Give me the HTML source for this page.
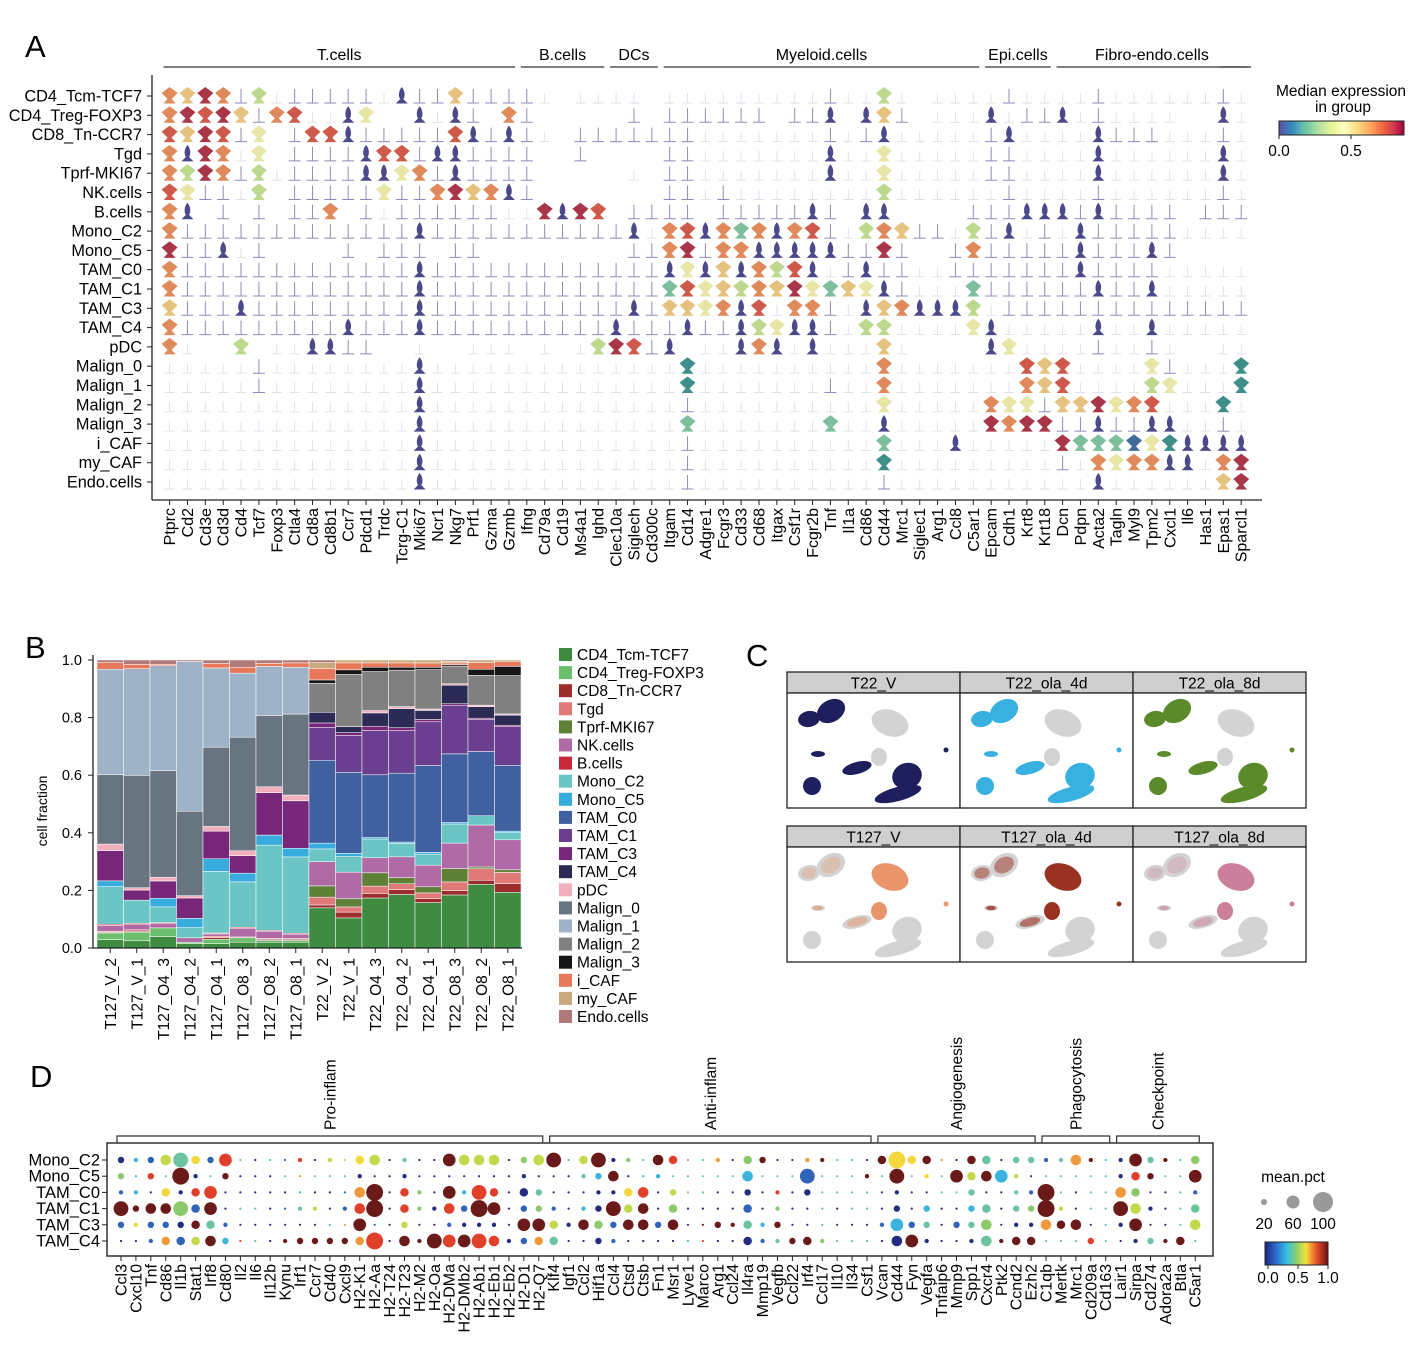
<!DOCTYPE html>
<html><head><meta charset="utf-8"><style>
html,body{margin:0;padding:0;background:#fff}
svg{display:block;font-family:"Liberation Sans",Arial,sans-serif}
</style></head><body>
<svg id="fig" width="1415" height="1366" viewBox="0 0 1415 1366" xmlns="http://www.w3.org/2000/svg">
<defs>
<linearGradient id="spec" x1="0" x2="1" y1="0" y2="0">
<stop offset="0" stop-color="#5e4fa2"/><stop offset="0.1" stop-color="#3288bd"/><stop offset="0.2" stop-color="#66c2a5"/><stop offset="0.3" stop-color="#abdda4"/><stop offset="0.42" stop-color="#e6f598"/><stop offset="0.52" stop-color="#ffffbf"/><stop offset="0.62" stop-color="#fee08b"/><stop offset="0.72" stop-color="#fdae61"/><stop offset="0.82" stop-color="#f46d43"/><stop offset="0.91" stop-color="#d53e4f"/><stop offset="1" stop-color="#9e0142"/>
</linearGradient>
<linearGradient id="jet" x1="0" x2="1" y1="0" y2="0">
<stop offset="0" stop-color="#1a237e"/><stop offset="0.18" stop-color="#2f6fd0"/><stop offset="0.35" stop-color="#33c0e0"/><stop offset="0.5" stop-color="#8ccf6a"/><stop offset="0.65" stop-color="#f5e23c"/><stop offset="0.82" stop-color="#e8502a"/><stop offset="1" stop-color="#6b1010"/>
</linearGradient>
</defs>
<g id="A"></g>
<g id="B"></g>
<g id="C"></g>
<g id="D"></g>
</svg>
<script>
// ---------- Panel A data ----------
const genesA = ["Ptprc","Cd2","Cd3e","Cd3d","Cd4","Tcf7","Foxp3","Ctla4","Cd8a","Cd8b1","Ccr7","Pdcd1","Trdc","Tcrg-C1","Mki67","Ncr1","Nkg7","Prf1","Gzma","Gzmb","Ifng","Cd79a","Cd19","Ms4a1","Ighd","Clec10a","Siglech","Cd300c","Itgam","Cd14","Adgre1","Fcgr3","Cd33","Cd68","Itgax","Csf1r","Fcgr2b","Tnf","Il1a","Cd86","Cd44","Mrc1","Siglec1","Arg1","Ccl8","C5ar1","Epcam","Cdh1","Krt8","Krt18","Dcn","Pdpn","Acta2","Tagln","Myl9","Tpm2","Cxcl1","Il6","Has1","Epas1","Sparcl1"];
const rowsA = ["CD4_Tcm-TCF7","CD4_Treg-FOXP3","CD8_Tn-CCR7","Tgd","Tprf-MKI67","NK.cells","B.cells","Mono_C2","Mono_C5","TAM_C0","TAM_C1","TAM_C3","TAM_C4","pDC","Malign_0","Malign_1","Malign_2","Malign_3","i_CAF","my_CAF","Endo.cells"];
const exprA = [
"oyRo|g.|||||.n||y||||. .... .."+".......|..g. ....|....|......|.",
"oRrRy|or..np  n.n| o|     | ||"+"|||| ||n ny| ...n.||n.|....  n.",
"ryRr|p |rrn|||||rn|n|. |||||||"+".......|.|n.....|n....n|||...|.",
"onRo.p ||||nrr|nn||||  |    ||"+".......n..p.....||....n......n.",
"ogRo|g.||||nnpo|n||||     . ||"+".......n..p.....||....n......n.",
"rp||.g |||||p||oRyon|       ||"+".|........g......|....|......|.",
"on | | ||o |.||||||..RnRr ||||"+" |||||n| nn    |||nnn|n|||| |||",
"o|||||||||||||n|||||||||||n.or"+"notonor|.goy||.g|n.|.n|||||....",
"R||n.|    | ||| ||        ||oR"+"|oonnnnn||R|  |o|||||n|||n|    ",
"o|||||||||||||n|||||||||||||np"+"nynogrn.|n||..|||||||n||||.....",
"o|||||||||||||n|||||||||||||tr"+"pygoyRptypn|...t||||||n||n.....",
"y|||n|||||||||n|||||||||||n|yy"+"ponr.oo|.nyonnng.||||||||||||||",
"o|||||||||n|||n||||||||||n|||n"+"||ngpnn|.gg....pn.....n..n.....",
"o.  g ..nn||  .  ... . .gRr|n"+" ..non.n...y.    np....|..|.  ..",
".....|........n..............T"+"..........o.......ryr....p|...T",
".....|........n..............T"+".......|..o.......oyr....gp...T",
"..............n..............|"+"..........p.....opp|yyRpor...T.",
"..............n..............t"+".......t..n.....RoRR||n||nn..|.",
"..............n..............|"+"..........t...n.....RtttbpTnnnn",
"..............n..............|"+"..........T.........|.opoonn.oR",
"..............n..............|"+"..........|...........n......yR"
];
const groupsA = ["T.cells","B.cells","DCs","Myeloid.cells","Epi.cells","Fibro-endo.cells"];
const groupSpanA = [[0,19],[20,24],[25,27],[28,45],[46,49],[50,60]];

// ---------- Panel B data ----------
const samplesB = ["T127_V_2","T127_V_1","T127_O4_3","T127_O4_2","T127_O4_1","T127_O8_3","T127_O8_2","T127_O8_1","T22_V_2","T22_V_1","T22_O4_3","T22_O4_2","T22_O4_1","T22_O8_3","T22_O8_2","T22_O8_1"];
const cellTypesB = ["CD4_Tcm-TCF7","CD4_Treg-FOXP3","CD8_Tn-CCR7","Tgd","Tprf-MKI67","NK.cells","B.cells","Mono_C2","Mono_C5","TAM_C0","TAM_C1","TAM_C3","TAM_C4","pDC","Malign_0","Malign_1","Malign_2","Malign_3","i_CAF","my_CAF","Endo.cells"];
const tcm = [.029,.025,.04,.015,.015,.02,.02,.02,.139,.104,.173,.185,.156,.183,.22,.193];
const treg = [.023,.03,.03,.005,.015,.015,.006,.006,0,0,0,0,0,0,0,0];
const cd8 = [.003,.003,0,0,.005,.003,.004,.004,.01,.02,.016,.017,.013,.015,.014,.03];
const tgd = [.003,.005,0,0,.005,0,.003,.003,.027,.018,.025,.02,.02,.03,.04,.039];
const tprf = [0,0,0,0,0,0,0,0,.039,.028,.046,.021,.021,.046,.006,.009];
const nk = [.02,.02,.015,.015,.008,.03,.025,.015,.084,.092,.052,.072,.074,.088,.145,.104];
const bcell = [.004,.003,.003,0,.003,.003,.003,.003,0,0,0,0,0,0,0,0];
const monoC2 = [.13,.08,.055,.035,.21,.156,.295,.264,.044,.055,.065,.046,.038,.066,.032,.025];
const monoC5 = [.02,0,.03,.032,.043,.03,.035,.03,.02,.01,.005,.005,.006,.005,0,.005];
const tamC0 = [0,0,0,0,0,0,0,0,.287,.28,.217,.238,.298,.237,.222,.228];
const tamC1 = [0,0,0,0,0,0,0,0,.114,.127,.153,.147,.15,.168,.11,.134];
const tamC3 = [.104,.035,.06,.07,.094,.06,.147,.164,.015,.01,.015,.01,.008,.005,.005,.005];
const tamC4 = [0,0,0,0,0,0,0,0,.037,.021,.046,.066,.031,.064,.04,.035];
const pdc = [.023,.008,.013,.008,.016,.017,.02,.02,0,0,.008,.007,.005,.005,.005,.004];
const malign0 = [.24,.39,.37,.29,.27,.39,.247,.28,0,0,0,0,0,0,0,0];
const malign1 = [.364,.37,.365,.515,.27,.22,.17,.162,0,0,0,0,0,0,0,0];
const malign2 = [0,0,0,0,0,0,0,0,.1,.18,.135,.126,.135,.061,.103,.133];
const malign3 = [0,0,0,0,0,0,0,0,.012,.016,.015,.01,.008,.005,.021,.032];
const icaf = [.023,.015,.005,0,.015,.02,.01,.015,.04,.024,.015,.015,.015,.006,.023,.016];
const mycaf = [0,0,0,0,0,0,0,0,.02,.01,.01,.01,.01,.005,.009,.006];
const endo = [.009,.015,.015,.005,.012,.025,.012,.01,.009,0,0,0,0,.005,0,0];
const yTicksB = ["0.0","0.2","0.4","0.6","0.8","1.0"];

// ---------- Panel C labels ----------
const facetsC = ["T22_V","T22_ola_4d","T22_ola_8d","T127_V","T127_ola_4d","T127_ola_8d"];

// ---------- Panel D data ----------
const genesD = ["Ccl3","Cxcl10","Tnf","Cd86","Il1b","Stat1","Irf8","Cd80","Il2","Il6","Il12b","Kynu","Irf1","Ccr7","Cd40","Cxcl9","H2-K1","H2-Aa","H2-T24","H2-T23","H2-M2","H2-Oa","H2-DMa","H2-DMb2","H2-Ab1","H2-Eb1","H2-Eb2","H2-D1","H2-Q7","Klf4","Igf1","Ccl2","Hif1a","Ccl4","Ctsd","Ctsb","Fn1","Msr1","Lyve1","Marco","Arg1","Ccl24","Il4ra","Mmp19","Vegfb","Ccl22","Irf4","Ccl17","Il10","Il34","Csf1","Vcan","Cd44","Fyn","Vegfa","Tnfaip6","Mmp9","Spp1","Cxcr4","Ptk2","Ccnd2","Ezh2","C1qb","Mertk","Mrc1","Cd209a","Cd163","Lair1","Sirpa","Cd274","Adora2a","Btla","C5ar1"];
const rowsD = ["Mono_C2","Mono_C5","TAM_C0","TAM_C1","TAM_C3","TAM_C4"];
// each entry "sc": s = fraction level 0-9, c = mean expression level 0-9
const dotMonoC2 = "20 12 21 45 63 36 21 58 03 00 03 01 18 00 15 05 36 45 00 13 00 00 59 45 45 45 00 24 45 69 03 35 69 10 14 03 49 38 03 03 17 09 34 29 00 00 17 19 03 03 00 39 76 36 39 07 00 39 33 00 23 23 11 13 47 19 03 10 59 23 19 03 34";
const dotMonoC5 = "24 02 28 03 79 10 03 29 00 00 00 03 07 03 03 03 10 00 00 10 00 00 00 00 00 00 00 10 00 00 00 13 22 49 00 02 12 03 03 03 03 03 42 03 03 03 61 03 03 03 19 03 69 03 16 03 59 35 49 52 15 00 03 03 03 03 03 10 38 29 03 03 59";
const dotTamC0 = "11 12 00 36 10 38 58 00 00 00 00 00 02 00 00 01 47 79 00 38 14 00 59 12 68 38 00 30 23 00 00 00 10 10 36 48 00 25 04 03 00 00 20 00 18 00 20 03 03 03 03 00 10 00 00 03 03 23 00 00 13 11 79 03 00 03 03 47 34 00 00 03 11";
const dotTamC1 = "69 29 49 49 64 31 59 00 03 03 00 01 13 15 00 11 48 79 00 38 14 10 48 21 79 59 00 21 24 11 00 12 20 69 35 49 00 34 00 00 00 00 31 00 14 00 00 03 09 03 03 00 20 00 22 00 00 22 33 00 23 24 79 15 00 03 03 69 45 10 00 03 33";
const dotTamC3 = "21 16 21 21 20 39 33 11 00 00 00 00 00 00 02 07 59 01 00 25 00 00 11 10 10 10 00 59 59 35 10 49 34 21 49 49 21 49 00 09 29 19 33 12 29 00 00 03 00 00 00 11 52 21 23 00 21 23 44 00 10 10 47 39 49 00 03 10 59 00 00 03 45";
const dotTamC4 = "00 00 11 37 31 35 49 22 08 03 00 19 29 29 29 29 37 78 00 49 19 69 58 59 68 48 10 21 37 33 00 00 20 11 00 00 00 00 03 08 00 00 30 11 13 29 39 14 03 03 03 00 40 59 10 00 00 10 43 19 39 39 03 03 03 28 03 00 10 23 19 39 03";
const groupsD = ["Pro-inflam","Anti-inflam","Angiogenesis","Phagocytosis","Checkpoint"];
const groupSpanD = [[0,28],[29,50],[51,61],[62,66],[67,72]];

const NS = "http://www.w3.org/2000/svg";
function mk(tag, attrs, parent, txt){
  const e = document.createElementNS(NS, tag);
  for (const k in attrs) e.setAttribute(k, attrs[k]);
  if (txt !== undefined) e.textContent = txt;
  parent.appendChild(e); return e;
}

// ================= Panel A =================
(function(){
  const g = document.getElementById('A');
  const t = mk('text',{x:25,y:57,'font-size':31},g,'A');
  
  
  const x0 = 169.6, dx = 17.86, y0 = 96, dy = 19.3;
  const xA = j => x0 + dx*j;
  const yA = r => y0 + dy*r;
  const axL = mk('line',{x1:152,y1:75,x2:152,y2:500,stroke:'#222','stroke-width':1.3},g);
   
  const axB = mk('line',{x1:152,y1:500,x2:1262,y2:500,stroke:'#222','stroke-width':1.3},g);
   
  rowsA.forEach((r,i)=>{
    mk('line',{x1:147,y1:yA(i),x2:152,y2:yA(i),stroke:'#222'},g);
    const lt = mk('text',{x:142,y:yA(i)+5.5,'text-anchor':'end','font-size':16.3},g,r);
    
    
  });
  genesA.forEach((gn,j)=>{
    const x = xA(j);
    mk('line',{x1:x,y1:500,x2:x,y2:505,stroke:'#222'},g);
    const gt = mk('text',{x:x+5.5,y:508,'text-anchor':'end','font-size':16,transform:`rotate(-90 ${x+5.5} 508)`},g,gn);
    
    
  });
  groupsA.forEach((gr,k)=>{
    const a = xA(groupSpanA[k][0])-6, b = xA(groupSpanA[k][1])+6;
    mk('line',{x1:a,y1:67,x2:b,y2:67,stroke:'#333','stroke-width':1.2},g);
    const tx = mk('text',{x:(a+b)/2,y:60,'text-anchor':'middle','font-size':16},g,gr);
    
    
  });
  mk('line',{x1:1220,y1:67,x2:1251,y2:67,stroke:'#333','stroke-width':1.2},g);
  const col = {p:'#e8e6a6',g:'#bcd98e',t:'#7dbf9c',T:'#3e8f8a',b:'#3f6a9a',y:'#e6c27f',o:'#e08a5c',r:'#cf5a4c',R:'#a93648'};
  exprA.forEach((row,i)=>{
    const y = yA(i);
    for (let j=0;j<genesA.length;j++){
      const ch = row[j] || '.';
      if (ch===' ') continue;
      const x = xA(j);
      let e;
      if (ch==='.'){
        e = mk('path',{d:`M${x-5},${y+7}H${x+5}M${x},${y-3}V${y+7}`,stroke:'#e0deea','stroke-width':0.9,fill:'none'},g);
      } else if (ch==='|'){
        e = mk('path',{d:`M${x-6},${y+7}H${x+6}M${x},${y-7}V${y+7}`,stroke:'#8f8bb8','stroke-width':1,fill:'none'},g);
      } else if (ch==='n'){
        e = mk('path',{d:`M${x},${y-9}C${x+3.5},${y-5} ${x+3.5},${y+1} ${x+1.5},${y+3}L${x+6},${y+7.5}H${x-6}L${x-1.5},${y+3}C${x-3.5},${y+1} ${x-3.5},${y-5} ${x},${y-9}Z`,fill:'#4d4889'},g);
      } else {
        e = mk('path',{d:`M${x},${y-9}L${x+8},${y-3}L${x+2},${y+3}L${x+6},${y+7.5}H${x-6}L${x-2},${y+3}L${x-8},${y-3}Z`,fill:col[ch]||'#ccc'},g);
      }
      
      
    }
  });
  const l1 = mk('text',{x:1341,y:96,'text-anchor':'middle','font-size':15.5},g,'Median expression');
   
  const l2 = mk('text',{x:1343,y:112,'text-anchor':'middle','font-size':15.5},g,'in group');
   
  const cb = mk('rect',{x:1279,y:121,width:125,height:14,fill:'url(#spec)',stroke:'#222','stroke-width':1},g);
   
  [['0.0',1279],['0.5',1351]].forEach(([s,x])=>{
    mk('line',{x1:x,y1:135,x2:x,y2:139,stroke:'#222'},g);
    const tt = mk('text',{x:x,y:156,'text-anchor':'middle','font-size':15.5},g,s);
     
  });
})();

// ================= Panel B =================
(function(){
  const g = document.getElementById('B');
  const t = mk('text',{x:25,y:658,'font-size':31},g,'B');
   
  const series = [tcm,treg,cd8,tgd,tprf,nk,bcell,monoC2,monoC5,tamC0,tamC1,tamC3,tamC4,pdc,malign0,malign1,malign2,malign3,icaf,mycaf,endo];
  const colors = ['#3d8a40','#6dbf70','#9b2d2d','#e07a78','#5f8037','#b06aa6','#c8283c','#6cc5c5','#38acdc','#40609f','#6a3f8f','#77277a','#2b2b55','#f2b0be','#687480','#9fb3c8','#808080','#161616','#e8785a','#c9aa7e','#b07a7a'];
  const X0 = 97, W = 424, Y0 = 948, H = 288;
  const bw = W/samplesB.length;
  const yS = v => Y0 - v*H;
  const xS = i => X0 + i*bw;
  samplesB.forEach((s,i)=>{
    let tot = 0; series.forEach(a=>tot+=a[i]);
    let acc = 0;
    series.forEach((a,k)=>{
      const v = a[i]/tot;
      if (v<=0) return;
      const r = mk('rect',{x:xS(i),y:yS(acc+v),width:bw,height:v*H,fill:colors[k],stroke:'#fff','stroke-width':0.5},g);
      
      
      acc += v;
    });
    const cx = xS(i)+bw/2;
    mk('line',{x1:cx,y1:948,x2:cx,y2:953,stroke:'#222'},g);
    const lt = mk('text',{x:cx+5.5,y:958,'text-anchor':'end','font-size':15.5,transform:`rotate(-90 ${cx+5.5} 958)`},g,s);
     
  });
  const ax = mk('path',{d:'M93,655V948H522',stroke:'#222','stroke-width':1.3,fill:'none'},g);
   
  yTicksB.forEach((s)=>{
    const y = yS(parseFloat(s));
    mk('line',{x1:88,y1:y,x2:93,y2:y,stroke:'#222'},g);
    const tt = mk('text',{x:82,y:y+5,'text-anchor':'end','font-size':14.5},g,s);
     
  });
  const yl = mk('text',{x:47,y:811,'text-anchor':'middle','font-size':14,transform:'rotate(-90 47 811)'},g,'cell fraction');
   
  cellTypesB.forEach((c,k)=>{
    const y = 648 + 18.1*k;
    const r = mk('rect',{x:559,y:y,width:13,height:13,fill:colors[k]},g);
     
    const tt = mk('text',{x:577,y:y+12,'font-size':15.5},g,c);
     
  });
})();

// ================= Panel C =================
(function(){
  const g = document.getElementById('C');
  const t = mk('text',{x:746,y:666,'font-size':31},g,'C');
   
  const pcol = ['#1f1f5e','#38b0e0','#5a8a2a','#e8956a','#9a3222','#cc7f9b'];
  const grey = '#d3d3d3';
  const blobs = [[21,25,11,8,-10],[43,17,15,11,-30],[102,29,19,13,20],[158,56,2.5,2.5,0],[30,60,7,3,0],[24,92,9,9,0],[91,63,8,9,0],[69,74,15,6,-15],[119,82,15,13,-20],[110,100,24,7,-15]];
  const colorOn = [
    [1,1,0,1,1,1,0,1,1,1],[1,1,0,1,1,1,0,1,1,1],[1,1,0,1,1,1,0,1,1,1],
    [0.3,0.3,1,1,0.6,0,1,0.5,0,0],[0.5,0.5,1,1,0.8,0,1,0.6,0,0],[0.3,0.3,1,1,0.6,0,1,0.5,0,0]
  ];
  facetsC.forEach((f,i)=>{
    const px = 787 + (i%3)*173, py = (i<3)?672:826;
    const hd = mk('rect',{x:px,y:py,width:173,height:21,fill:'#cfcfcf',stroke:'#222','stroke-width':1.3},g);
     
    const tt = mk('text',{x:px+86.5,y:py+16.5,'text-anchor':'middle','font-size':15.5},g,f);
     
    const bx = mk('rect',{x:px,y:py+21,width:173,height:115,fill:'#fff',stroke:'#222','stroke-width':1.3},g);
     
    const ox = px+1, oy = py+22;
    blobs.forEach((b,k)=>{
      const on = colorOn[i][k];
      const base = mk('ellipse',{cx:ox+b[0],cy:oy+b[1],rx:b[2],ry:b[3],fill:(on>=1)?pcol[i]:grey,transform:`rotate(${b[4]} ${ox+b[0]} ${oy+b[1]})`},g);
       
      if (on>0 && on<1){
        const ov = mk('ellipse',{cx:ox+b[0],cy:oy+b[1],rx:b[2]*0.7,ry:b[3]*0.7,fill:pcol[i],'fill-opacity':on,transform:`rotate(${b[4]} ${ox+b[0]} ${oy+b[1]})`},g);
         
      }
    });
  });
})();

// ================= Panel D =================
(function(){
  const g = document.getElementById('D');
  const t = mk('text',{x:30,y:1087,'font-size':31},g,'D');
   
  const rowsData = [dotMonoC2,dotMonoC5,dotTamC0,dotTamC1,dotTamC3,dotTamC4];
  const cmap = ['#232c7e','#2f64b8','#3ab4dc','#6cc3a0','#8cc96c','#c4d84c','#f2d83c','#ee9a3a','#e0402a','#6b1a1a'];
  const xD = i => 121 + 14.92*i;
  const yD = r => 1160 + 16.2*r;
  const rS = s => 1.1 + s*1.05;
  const box = mk('rect',{x:107,y:1143,width:1106,height:113,fill:'none',stroke:'#222','stroke-width':1.4},g);
   
  rowsD.forEach((r,ri)=>{
    const y = yD(ri);
    mk('line',{x1:102,y1:y,x2:107,y2:y,stroke:'#222'},g);
    const lt = mk('text',{x:100,y:y+5.5,'text-anchor':'end','font-size':16.5},g,r);
     
    const cells = rowsData[ri].split(' ');
    cells.forEach((c,i)=>{
      const s = +c[0], v = +c[1];
      const d = mk('circle',{cx:xD(i),cy:y,r:rS(s),fill:cmap[v]},g);
      
      
    });
  });
  genesD.forEach((gn,i)=>{
    const x = xD(i);
    mk('line',{x1:x,y1:1256,x2:x,y2:1261,stroke:'#222'},g);
    const gt = mk('text',{x:x+5.5,y:1264,'text-anchor':'end','font-size':16,transform:`rotate(-90 ${x+5.5} 1264)`},g,gn);
     
  });
  groupsD.forEach((gr,k)=>{
    const a = xD(groupSpanD[k][0])-4, b = xD(groupSpanD[k][1])+4;
    const br = mk('path',{d:`M${a},1143V1136H${b}V1143`,stroke:'#333','stroke-width':1.2,fill:'none'},g);
     
    const cx = (a+b)/2;
    const tt = mk('text',{x:cx+5.5,y:1130,'font-size':15.5,transform:`rotate(-90 ${cx+5.5} 1130)`},g,gr);
     
  });
  const lt = mk('text',{x:1293,y:1182,'text-anchor':'middle','font-size':15.5},g,'mean.pct');
   
  [['20',1264,3],['60',1293,6.5],['100',1323,10]].forEach(([s,x,r])=>{
    const c = mk('circle',{cx:x,cy:1202,r:r,fill:'#999'},g);
     
    const tx = mk('text',{x:x,y:1229,'text-anchor':'middle','font-size':15.5},g,s);
     
  });
  const cb = mk('rect',{x:1265,y:1242,width:63,height:23,fill:'url(#jet)',stroke:'#222','stroke-width':1},g);
   
  [['0.0',1268],['0.5',1298],['1.0',1328]].forEach(([s,x])=>{
    mk('line',{x1:x,y1:1265,x2:x,y2:1269,stroke:'#222'},g);
    const tx = mk('text',{x:x,y:1283,'text-anchor':'middle','font-size':15.5},g,s);
     
  });
})();
</script>
</body></html>
